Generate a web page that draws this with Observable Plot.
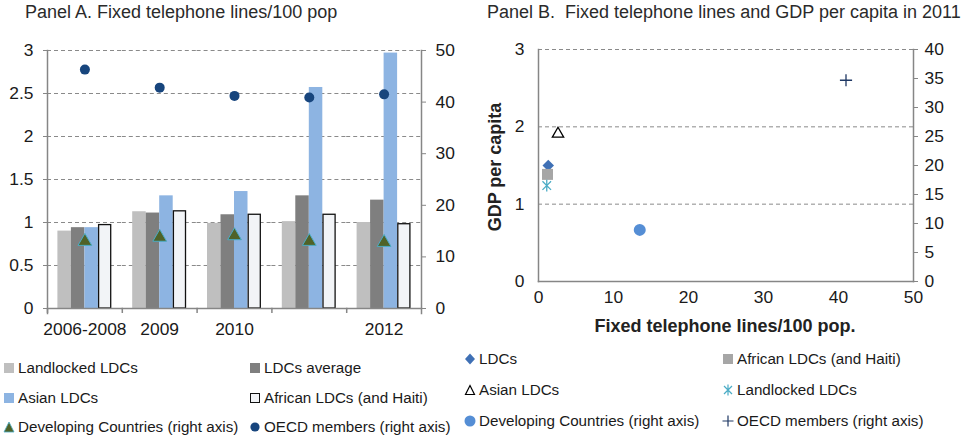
<!DOCTYPE html>
<html>
<head>
<meta charset="utf-8">
<script src="https://cdn.jsdelivr.net/npm/d3@7"></script>
<script src="https://cdn.jsdelivr.net/npm/@observablehq/plot@0.6"></script>
<style>
  html, body { margin: 0; padding: 0; background: #fff; }
  #root { position: relative; width: 962px; height: 438px; font-family: "Liberation Sans", Arial, Helvetica, sans-serif; color: #1a1a1a; overflow: hidden; }
  .abs { position: absolute; white-space: pre; line-height: 1; }
  .title { font-size: 18px; color: #2a2a2a; }
  .axtitle { font-size: 18px; font-weight: bold; color: #222; }
  .leg { position: absolute; display: flex; align-items: center; font-size: 15.2px; line-height: 1; white-space: pre; color: #1a1a1a; }
  .leg svg { display: block; margin-right: 2px; }
  .panel { position: absolute; top: 0; }
</style>
</head>
<body>
<div id="root"></div>
<script>
// ---------- Panel A data ----------
const categories = ["2006-2008", "2009", "2010", "2011", "2012"];
const tickLabels = ["2006-2008", "2009", "2010", "", "2012"];
const barSeries = ["Landlocked LDCs", "LDCs average", "Asian LDCs", "African LDCs (and Haiti)"];
const landlockedLDCs = [0.90, 1.125, 0.99, 1.01, 1.00];
const ldcsAverage = [0.94, 1.11, 1.09, 1.31, 1.26];
const asianLDCs = [0.94, 1.31, 1.36, 2.57, 2.97];
const africanLDCs = [0.97, 1.13, 1.09, 1.09, 0.98];
const developingRight = [13.0, 13.8, 14.1, 13.0, 12.8];
const oecdRight = [46.3, 42.8, 41.2, 40.9, 41.5];
const leftTicksA = [0, 0.5, 1, 1.5, 2, 2.5, 3];
const rightTicksA = [0, 10, 20, 30, 40, 50];

// ---------- Panel B data ----------
const groupsB = ["LDCs", "African LDCs (and Haiti)", "Asian LDCs", "Landlocked LDCs", "Developing Countries (right axis)", "OECD members (right axis)"];
const linesB = [1.3, 1.2, 2.6, 1.1, 13.5, 41.0];
const gdpB = [1.50, 1.385, 1.91, 1.24, 8.9, 34.7];
const axisSideB = ["left", "left", "left", "left", "right", "right"];
const leftTicksB = [0, 1, 2, 3];
const rightTicksB = [0, 5, 10, 15, 20, 25, 30, 35, 40];
const xTicksB = [0, 10, 20, 30, 40, 50];

const FONT = '"Liberation Sans", Arial, Helvetica, sans-serif';
const AXIS = "#868686";
const GRID = "#8a8a8a";
const root = document.getElementById("root");

// Excel-like "star" marker: X with a vertical bar
const starSymbol = {
  draw(ctx, size) {
    const r = Math.sqrt(size) * 0.6;
    const a = r * 0.72;
    ctx.moveTo(0, -r); ctx.lineTo(0, r);
    ctx.moveTo(-a, -a); ctx.lineTo(a, a);
    ctx.moveTo(-a, a); ctx.lineTo(a, -a);
  }
};

// ---------- Panel A ----------
const seriesValues = [landlockedLDCs, ldcsAverage, asianLDCs, africanLDCs];
const barRows = [];
categories.forEach((c, i) => barSeries.forEach((s, j) => barRows.push({cat: c, series: s, value: seriesValues[j][i]})));
const pointRows = categories.map((c, i) => ({cat: c, dev: developingRight[i], oecd: oecdRight[i]}));
const rA = 3 / 50;
const gridRowsA = categories.flatMap(c => leftTicksA.slice(1).map(t => ({cat: c, t})));

const wA = 480, mlA = 47, mrA = 59;
const bandA = (wA - mlA - mrA) / categories.length;

const plotA = Plot.plot({
  width: wA, height: 345,
  marginLeft: mlA, marginRight: mrA, marginTop: 50, marginBottom: 37,
  style: {fontFamily: FONT, fontSize: "17.4px", color: "#1a1a1a", background: "transparent", overflow: "visible"},
  fx: {domain: categories, padding: 0, round: false, label: null, axis: null},
  x: {domain: barSeries, paddingInner: 0, paddingOuter: 0.77, round: false, axis: null, label: null},
  y: {domain: [0, 3], axis: null, label: null},
  marks: [
    Plot.ruleY(gridRowsA, {fx: "cat", y: "t", stroke: GRID, strokeDasharray: "4,3", strokeWidth: 1}),
    Plot.barY(barRows.filter(d => d.series !== "African LDCs (and Haiti)"), {fx: "cat", x: "series", y: "value",
      fill: d => ({"Landlocked LDCs": "#bfbfbf", "LDCs average": "#7f7f7f", "Asian LDCs": "#8db4e2"})[d.series]}),
    Plot.barY(barRows.filter(d => d.series === "African LDCs (and Haiti)"), {fx: "cat", x: "series", y: "value",
      fill: "#f2f4f7", stroke: "#111", strokeWidth: 1.3, insetLeft: 0.7, insetRight: 0.7}),
    Plot.frame({anchor: "bottom", stroke: AXIS, strokeWidth: 1.5}),
    Plot.frame({anchor: "left", facetAnchor: "left", stroke: AXIS, strokeWidth: 1.5, insetBottom: -5}),
    Plot.frame({anchor: "right", facetAnchor: "right", stroke: AXIS, strokeWidth: 1.5, insetBottom: -5}),
    Plot.dot(pointRows, {fx: "cat", y: d => d.dev * rA, symbol: "triangle", r: 5.1, fill: "#4f6228", stroke: "#4bacc6", strokeWidth: 1}),
    Plot.dot(pointRows, {fx: "cat", y: d => d.oecd * rA, r: 5, fill: "#17457d"}),
    Plot.axisY(leftTicksA, {anchor: "left", label: null, tickSize: 4, tickPadding: 10, stroke: AXIS, fill: "#1a1a1a", tickFormat: d => String(d)}),
    Plot.axisY(rightTicksA.map(t => t * rA), {anchor: "right", label: null, tickSize: 4, tickPadding: 10, stroke: AXIS, fill: "#1a1a1a", tickFormat: d => String(Math.round(d / rA))}),
    Plot.axisFx({anchor: "bottom", label: null, tickSize: 0, tickPadding: 14, fill: "#1a1a1a", tickFormat: d => tickLabels[categories.indexOf(d)]}),
    Plot.axisFx({anchor: "bottom", label: null, tickSize: 5, stroke: AXIS, strokeWidth: 1.5, dx: -bandA / 2, tickFormat: () => ""})
  ]
});
plotA.classList.add("panel");
plotA.style.left = "0px";
root.appendChild(plotA);

// ---------- Panel B ----------
const rB = 3 / 40;
const rowsB = groupsB.map((g, i) => ({group: g, x: linesB[i], y: axisSideB[i] === "right" ? gdpB[i] * rB : gdpB[i]}));
const pick = g => rowsB.filter(d => d.group === g);

const plotB = Plot.plot({
  width: 490, height: 345,
  marginLeft: 68, marginRight: 47, marginTop: 49, marginBottom: 64,
  style: {fontFamily: FONT, fontSize: "17.4px", color: "#1a1a1a", background: "transparent", overflow: "visible"},
  x: {domain: [0, 50], axis: null, label: null},
  y: {domain: [0, 3], axis: null, label: null},
  marks: [
    Plot.ruleY(leftTicksB.slice(1), {stroke: GRID, strokeDasharray: "4,3", strokeWidth: 1}),
    Plot.frame({anchor: "left", stroke: AXIS, strokeWidth: 1.5}),
    Plot.frame({anchor: "right", stroke: AXIS, strokeWidth: 1.5}),
    Plot.frame({anchor: "bottom", stroke: AXIS, strokeWidth: 1.5}),
    Plot.dot(pick("LDCs"), {x: "x", y: "y", symbol: "diamond2", r: 5.2, fill: "#3f70b5", stroke: "none"}),
    Plot.dot(pick("African LDCs (and Haiti)"), {x: "x", y: "y", symbol: "square", r: 6.2, fill: "#a6a6a6", stroke: "none"}),
    Plot.dot(pick("Asian LDCs"), {x: "x", y: "y", symbol: "triangle2", r: 5.4, stroke: "#000", strokeWidth: 1.3, fill: "none"}),
    Plot.dot(pick("Landlocked LDCs"), {x: "x", y: "y", symbol: starSymbol, r: 5.6, stroke: "#4bacc6", strokeWidth: 1.3, fill: "none"}),
    Plot.dot(pick("Developing Countries (right axis)"), {x: "x", y: "y", r: 6, fill: "#558ed5"}),
    Plot.dot(pick("OECD members (right axis)"), {x: "x", y: "y", symbol: "plus", r: 4, stroke: "#1f3864", strokeWidth: 1.3}),
    Plot.axisY(leftTicksB, {anchor: "left", label: null, tickSize: 0, tickPadding: 14, fill: "#1a1a1a", tickFormat: d => String(d)}),
    Plot.axisY(rightTicksB.map(t => t * rB), {anchor: "right", label: null, tickSize: 4, tickPadding: 7, stroke: AXIS, fill: "#1a1a1a", tickFormat: d => String(Math.round(d / rB))}),
    Plot.axisX(xTicksB, {anchor: "bottom", label: null, tickSize: 0, tickPadding: 9, fill: "#1a1a1a", tickFormat: d => String(d)})
  ]
});
plotB.classList.add("panel");
plotB.style.left = "470px";
root.appendChild(plotB);

// ---------- Titles ----------
function addText(txt, cls, left, top, extra) {
  const d = document.createElement("div");
  d.className = "abs " + cls;
  d.textContent = txt;
  d.style.left = left + "px";
  d.style.top = top + "px";
  if (extra) Object.assign(d.style, extra);
  root.appendChild(d);
  return d;
}
addText("Panel A. Fixed telephone lines/100 pop", "title", 25, 2.8);
addText("Panel B.  Fixed telephone lines and GDP per capita in 2011", "title", 487, 2.8);
addText("Fixed telephone lines/100 pop.", "axtitle", 725, 317, {transform: "translateX(-50%)"});
addText("GDP per capita", "axtitle", 495, 167, {transform: "translate(-50%, -50%) rotate(-90deg)"});

// ---------- Legends ----------
function icon(kind) {
  const s = 14;
  let inner = "";
  switch (kind) {
    case "sq-light": inner = `<rect x="2" y="2" width="10" height="10" fill="#bfbfbf"/>`; break;
    case "sq-dark": inner = `<rect x="2" y="2" width="10" height="10" fill="#7f7f7f"/>`; break;
    case "sq-blue": inner = `<rect x="2" y="2" width="10" height="10" fill="#8db4e2"/>`; break;
    case "sq-open": inner = `<rect x="2.5" y="2.5" width="9" height="9" fill="#f2f4f7" stroke="#111" stroke-width="1"/>`; break;
    case "tri-green": inner = `<path d="M7,2 L12,12 L2,12 Z" fill="#4f6228" stroke="#4bacc6" stroke-width="0.8"/>`; break;
    case "dot-navy": inner = `<circle cx="7" cy="7" r="4.6" fill="#17457d"/>`; break;
    case "diamond": inner = `<path d="M7,1.5 L12,7 L7,12.5 L2,7 Z" fill="#3f70b5"/>`; break;
    case "sq-gray": inner = `<rect x="2" y="2" width="10" height="10" fill="#a6a6a6"/>`; break;
    case "tri-open": inner = `<path d="M7,2.5 L11.5,11.5 L2.5,11.5 Z" fill="none" stroke="#000" stroke-width="1.2"/>`; break;
    case "asterisk": inner = `<path d="M7,1.5 V12.5 M3,3 L11,11 M3,11 L11,3" stroke="#4bacc6" stroke-width="1.2"/>`; break;
    case "dot-blue": inner = `<circle cx="7" cy="7" r="5.5" fill="#558ed5"/>`; break;
    case "plus": inner = `<path d="M1.5,7 H12.5 M7,1.5 V12.5" stroke="#1f3864" stroke-width="1.2"/>`; break;
  }
  return `<svg width="${s}" height="${s}" viewBox="0 0 14 14">${inner}</svg>`;
}
function addLegend(kind, label, left, cy) {
  const d = document.createElement("div");
  d.className = "leg";
  d.style.left = left + "px";
  d.style.top = (cy - 8) + "px";
  d.style.height = "16px";
  d.innerHTML = icon(kind) + `<span>${label}</span>`;
  root.appendChild(d);
}
const legendA = [
  ["sq-light", barSeries[0], 2, 368], ["sq-dark", barSeries[1], 248, 368],
  ["sq-blue", barSeries[2], 2, 398], ["sq-open", barSeries[3], 248, 398],
  ["tri-green", "Developing Countries (right axis)", 2, 427], ["dot-navy", "OECD members (right axis)", 248, 427]
];
legendA.forEach(l => addLegend(...l));
const legendB = [
  ["diamond", groupsB[0], 463, 359], ["sq-gray", groupsB[1], 721, 359],
  ["tri-open", groupsB[2], 463, 390], ["asterisk", groupsB[3], 721, 390],
  ["dot-blue", groupsB[4], 463, 421], ["plus", groupsB[5], 721, 421]
];
legendB.forEach(l => addLegend(...l));
</script>
</body>
</html>
